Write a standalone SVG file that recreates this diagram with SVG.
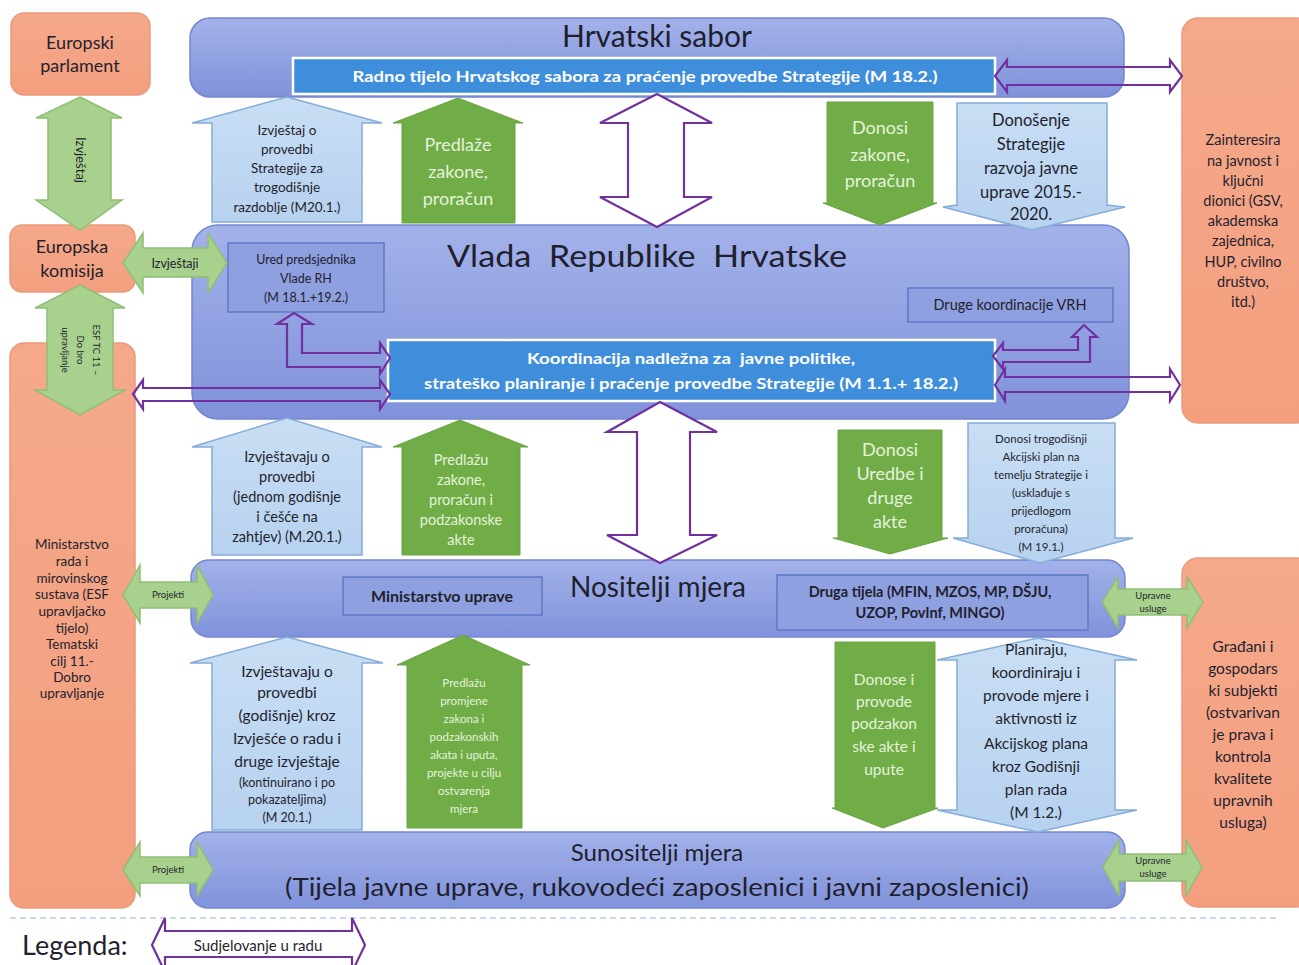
<svg xmlns="http://www.w3.org/2000/svg" width="1299" height="965" viewBox="0 0 1299 965">
<defs>
<linearGradient id="gBlue" x1="0" y1="0" x2="0" y2="1">
<stop offset="0" stop-color="#a3b2ea"/>
<stop offset="1" stop-color="#8092da"/>
</linearGradient>
<linearGradient id="gOr" x1="0" y1="0" x2="0" y2="1">
<stop offset="0" stop-color="#f5a98a"/>
<stop offset="1" stop-color="#f39f7f"/>
</linearGradient>
<linearGradient id="gLb" x1="0" y1="0" x2="0" y2="1">
<stop offset="0" stop-color="#c8def4"/>
<stop offset="1" stop-color="#b7d2ef"/>
</linearGradient>
</defs>
<style>
text{font-family:Lato,"Open Sans","Liberation Sans",sans-serif;fill:#1f1f2e;text-anchor:middle}
.or{fill:url(#gOr);stroke:#e99a7a;stroke-width:1.5}
.bb{fill:url(#gBlue);stroke:#7587d0;stroke-width:1.5}
.ib{fill:#8fa0e0;stroke:#5f78c8;stroke-width:1.5}
.bar{fill:#3f8edb;stroke:#ffffff;stroke-width:2.5}
.lb{fill:url(#gLb);stroke:#86acd8;stroke-width:1.5}
.gr{fill:#70ad47;stroke:#6aa342;stroke-width:1}
.sg{fill:#a9d18e;stroke:#8fbf75;stroke-width:1.5}
.pu{fill:none;stroke:#7030a0;stroke-width:2.2}
.puw{fill:#ffffff;stroke:#7030a0;stroke-width:2.2}
.wt{fill:#e6f2dc}
.bw{fill:#ffffff;font-weight:bold}
.t12{font-size:12.5px}
.t13{font-size:13.5px}
.t14{font-size:14.5px}
.t15{font-size:15.5px}
.t18{font-size:18px}
</style>

<!-- legend dashed separator -->
<line x1="10" y1="918" x2="1278" y2="918" stroke="#8db3d9" stroke-width="1.2" stroke-dasharray="6 4"/>

<!-- Orange side nodes -->
<g id="europski-parlament">
<rect class="or" x="11" y="13" width="139" height="82" rx="13"/>
<text class="t18" x="80" y="49">Europski</text>
<text class="t18" x="80" y="72">parlament</text>
</g>
<g id="europska-komisija">
<rect class="or" x="10" y="225" width="125" height="67" rx="12"/>
<text class="t18" x="72" y="253">Europska</text>
<text class="t18" x="72" y="277">komisija</text>
</g>
<g id="ministarstvo-rada">
<rect class="or" x="10" y="343" width="125" height="565" rx="14"/>
<g class="t13">
<text x="72" y="549">Ministarstvo</text>
<text x="72" y="566">rada i</text>
<text x="72" y="583">mirovinskog</text>
<text x="72" y="599">sustava (ESF</text>
<text x="72" y="616">upravljačko</text>
<text x="72" y="633">tijelo)</text>
<text x="72" y="649">Tematski</text>
<text x="72" y="666">cilj 11.-</text>
<text x="72" y="682">Dobro</text>
<text x="72" y="698">upravljanje</text>
</g>
</g>
<g id="zainteresirana-javnost">
<rect class="or" x="1182" y="18" width="130" height="405" rx="16"/>
<g class="t14">
<text x="1243" y="145">Zainteresira</text>
<text x="1243" y="166">na javnost i</text>
<text x="1243" y="186">ključni</text>
<text x="1243" y="206">dionici (GSV,</text>
<text x="1243" y="226">akademska</text>
<text x="1243" y="246">zajednica,</text>
<text x="1243" y="267">HUP, civilno</text>
<text x="1243" y="287">društvo,</text>
<text x="1243" y="307">itd.)</text>
</g>
</g>
<g id="gradjani">
<rect class="or" x="1182" y="558" width="130" height="349" rx="16"/>
<g class="t15">
<text x="1243" y="652">Građani i</text>
<text x="1243" y="674">gospodars</text>
<text x="1243" y="696">ki subjekti</text>
<text x="1243" y="718">(ostvarivan</text>
<text x="1243" y="740">je prava i</text>
<text x="1243" y="762">kontrola</text>
<text x="1243" y="784">kvalitete</text>
<text x="1243" y="806">upravnih</text>
<text x="1243" y="828">usluga)</text>
</g>
</g>

<!-- Main blue nodes -->
<g id="hrvatski-sabor">
<rect class="bb" x="190" y="18" width="934" height="79" rx="20"/>
<text x="657" y="47" style="font-size:30px">Hrvatski sabor</text>
<rect class="bar" x="293" y="58" width="702" height="36"/>
<text class="bw t15" x="645" y="82" textLength="585" lengthAdjust="spacingAndGlyphs">Radno tijelo Hrvatskog sabora za praćenje provedbe Strategije (M 18.2.)</text>
</g>
<g id="vlada-rh">
<rect class="bb" x="192" y="225" width="937" height="194" rx="26"/>
<text x="647" y="267" style="font-size:31px" xml:space="preserve" textLength="400" lengthAdjust="spacingAndGlyphs">Vlada  Republike  Hrvatske</text>
<rect class="ib" x="228" y="243" width="156" height="69"/>
<g class="t12">
<text x="306" y="264">Ured predsjednika</text>
<text x="306" y="283">Vlade RH</text>
<text x="306" y="302">(M 18.1.+19.2.)</text>
</g>
<rect class="ib" x="908" y="288" width="205" height="34"/>
<text class="t14" x="1010" y="310">Druge koordinacije VRH</text>
<rect class="bar" x="388" y="340" width="607" height="61"/>
<text class="bw t15" x="691" y="364" xml:space="preserve" textLength="328" lengthAdjust="spacingAndGlyphs">Koordinacija nadležna za  javne politike,</text>
<text class="bw t15" x="691" y="389" textLength="534" lengthAdjust="spacingAndGlyphs">strateško planiranje i praćenje provedbe Strategije (M 1.1.+ 18.2.)</text>
</g>
<g id="nositelji-mjera">
<rect class="bb" x="191" y="560" width="934" height="77" rx="18"/>
<text x="658" y="597" style="font-size:28px">Nositelji mjera</text>
<rect class="ib" x="343" y="577" width="199" height="38"/>
<text x="442" y="602" style="font-size:16px;font-weight:bold">Ministarstvo uprave</text>
<rect class="ib" x="777" y="575" width="311" height="55"/>
<text x="930" y="597" style="font-size:14.5px;font-weight:bold">Druga tijela (MFIN, MZOS, MP, DŠJU,</text>
<text x="930" y="618" style="font-size:14.5px;font-weight:bold">UZOP, PovInf, MINGO)</text>
</g>
<g id="sunositelji-mjera">
<rect class="bb" x="190" y="832" width="935" height="76" rx="18"/>
<text x="657" y="861" style="font-size:24px">Sunositelji mjera</text>
<text x="657" y="896" style="font-size:25px" textLength="744" lengthAdjust="spacingAndGlyphs">(Tijela javne uprave, rukovodeći zaposlenici i javni zaposlenici)</text>
</g>

<!-- Connectors -->
<g id="connectors">
<!-- Sabor <-> Vlada -->
<g id="c-izvjestaj-sabor">
<polygon class="lb" points="287,97 382,123 362,123 362,222 212,222 212,123 192,123"/>
<g class="t13">
<text x="287" y="135">Izvještaj o</text>
<text x="287" y="154">provedbi</text>
<text x="287" y="173">Strategije za</text>
<text x="287" y="192">trogodišnje</text>
<text x="287" y="212">razdoblje (M20.1.)</text>
</g>
</g>
<g id="c-predlaze">
<polygon class="gr" points="458,98 523,123 515,123 515,223 402,223 402,123 393,123"/>
<g class="t18 wt">
<text class="wt" x="458" y="151">Predlaže</text>
<text class="wt" x="458" y="178">zakone,</text>
<text class="wt" x="458" y="205">proračun</text>
</g>
</g>
<polygon id="c-sudj-sabor" class="puw" points="657,94 712,123 684,123 684,197 712,197 657,227 600,197 628,197 628,123 600,123"/>
<g id="c-donosi-zakone">
<polygon class="gr" points="827,102 933,102 933,203 937,203 880,225 823,203 827,203"/>
<text class="wt t18" x="880" y="134">Donosi</text>
<text class="wt t18" x="880" y="161">zakone,</text>
<text class="wt t18" x="880" y="187">proračun</text>
</g>
<g id="c-donosenje-strategije">
<polygon class="lb" points="957,103 1107,103 1107,205 1125,207 1032,230 943,207 957,205"/>
<g style="font-size:16.5px">
<text x="1031" y="126">Donošenje</text>
<text x="1031" y="150">Strategije</text>
<text x="1031" y="174">razvoja javne</text>
<text x="1031" y="198">uprave 2015.-</text>
<text x="1031" y="220">2020.</text>
</g>
</g>

<!-- Vlada <-> Nositelji -->
<g id="c-izvjestavaju-vlada">
<polygon class="lb" points="287,418 382,447 362,447 362,555 212,555 212,447 192,447"/>
<g class="t14">
<text x="287" y="462">Izvještavaju o</text>
<text x="287" y="482">provedbi</text>
<text x="287" y="502">(jednom godišnje</text>
<text x="287" y="522">i češće na</text>
<text x="287" y="542">zahtjev) (M.20.1.)</text>
</g>
</g>
<g id="c-predlazu-vlada">
<polygon class="gr" points="460,420 528,447 520,447 520,555 402,555 402,447 393,447"/>
<g class="t14">
<text class="wt" x="461" y="465">Predlažu</text>
<text class="wt" x="461" y="485">zakone,</text>
<text class="wt" x="461" y="505">proračun i</text>
<text class="wt" x="461" y="525">podzakonske</text>
<text class="wt" x="461" y="545">akte</text>
</g>
</g>
<polygon id="c-sudj-vlada" class="puw" points="660,402 717,432 690,432 690,535 717,535 660,563 607,535 637,535 637,432 607,432"/>
<g id="c-donosi-uredbe">
<polygon class="gr" points="838,430 942,430 942,538 948,538 890,554 833,538 838,538"/>
<text class="wt t18" x="890" y="456">Donosi</text>
<text class="wt t18" x="890" y="480">Uredbe i</text>
<text class="wt t18" x="890" y="504">druge</text>
<text class="wt t18" x="890" y="528">akte</text>
</g>
<g id="c-akcijski-plan">
<polygon class="lb" points="968,423 1115,423 1115,538 1133,538 1040,563 953,538 968,538"/>
<g style="font-size:11.5px">
<text x="1041" y="443">Donosi trogodišnji</text>
<text x="1041" y="461">Akcijski plan na</text>
<text x="1041" y="479">temelju Strategije i</text>
<text x="1041" y="497">(usklađuje s</text>
<text x="1041" y="515">prijedlogom</text>
<text x="1041" y="533">proračuna)</text>
<text x="1041" y="551">(M 19.1.)</text>
</g>
</g>

<!-- Nositelji <-> Sunositelji -->
<g id="c-izvjestavaju-nositelji">
<polygon class="lb" points="287,637 383,663 362,663 362,830 212,830 212,663 190,663"/>
<g class="t15">
<text x="287" y="677">Izvještavaju o</text>
<text x="287" y="698">provedbi</text>
<text x="287" y="721">(godišnje) kroz</text>
<text x="287" y="744">Izvješće o radu i</text>
<text x="287" y="767">druge izvještaje</text>
</g>
<g class="t12">
<text x="287" y="787">(kontinuirano i po</text>
<text x="287" y="804">pokazateljima)</text>
<text x="287" y="822">(M 20.1.)</text>
</g>
</g>
<g id="c-predlazu-promjene">
<polygon class="gr" points="463,635 530,665 522,665 522,828 407,828 407,665 397,665"/>
<g style="font-size:11.5px">
<text class="wt" x="464" y="687">Predlažu</text>
<text class="wt" x="464" y="705">promjene</text>
<text class="wt" x="464" y="723">zakona i</text>
<text class="wt" x="464" y="741">podzakonskih</text>
<text class="wt" x="464" y="759">akata i uputa,</text>
<text class="wt" x="464" y="777">projekte u cilju</text>
<text class="wt" x="464" y="795">ostvarenja</text>
<text class="wt" x="464" y="813">mjera</text>
</g>
</g>
<g id="c-donose-provode">
<polygon class="gr" points="835,642 935,642 935,808 938,808 883,828 832,808 835,808"/>
<g class="t15">
<text class="wt" x="884" y="685">Donose i</text>
<text class="wt" x="884" y="707">provode</text>
<text class="wt" x="884" y="729">podzakon</text>
<text class="wt" x="884" y="752">ske akte i</text>
<text class="wt" x="884" y="775">upute</text>
</g>
</g>
<g id="c-planiraju">
<polygon class="lb" points="1038,638 1137,660 1115,660 1115,810 1137,810 1038,832 937,810 957,810 957,660 937,660"/>
<g class="t15">
<text x="1036" y="655">Planiraju,</text>
<text x="1036" y="678">koordiniraju i</text>
<text x="1036" y="701">provode mjere i</text>
<text x="1036" y="724">aktivnosti iz</text>
<text x="1036" y="749">Akcijskog plana</text>
<text x="1036" y="772">kroz Godišnji</text>
<text x="1036" y="795">plan rada</text>
<text x="1036" y="818">(M 1.2.)</text>
</g>
</g>

<!-- EU green double arrows -->
<g id="c-izvjestaj-eu">
<polygon class="sg" points="80,97 122,118 111,118 111,200 122,200 80,230 36,200 48,200 48,118 36,118"/>
<text transform="translate(80,160) rotate(90)" x="0" y="4" style="font-size:13px">Izvještaj</text>
</g>
<g id="c-esf">
<polygon class="sg" points="80,285 125,308 113,308 113,390 125,390 80,415 35,390 47,390 47,308 35,308"/>
<g transform="translate(80,350) rotate(90)" style="font-size:9.5px">
<text x="0" y="-13">ESF  TC 11 –</text>
<text x="0" y="3">Do bro</text>
<text x="0" y="18">upravljanje</text>
</g>
</g>
<g id="c-izvjestaji">
<polygon class="sg" points="123,263 143,233 143,248 208,248 208,233 227,263 208,293 208,277 143,277 143,293"/>
<text class="t12" x="175" y="268">Izvještaji</text>
</g>
<g id="c-projekti-1">
<polygon class="sg" points="123,595 140,565 140,582 197,582 197,565 213,595 197,623 197,608 140,608 140,623"/>
<text x="168" y="598" style="font-size:9.5px">Projekti</text>
</g>
<g id="c-projekti-2">
<polygon class="sg" points="123,870 140,842 140,857 197,857 197,842 213,870 197,896 197,883 140,883 140,896"/>
<text x="168" y="873" style="font-size:9.5px">Projekti</text>
</g>
<g id="c-upravne-1">
<polygon class="sg" points="1102,602 1118,577 1118,589 1187,589 1187,577 1203,602 1187,628 1187,615 1118,615 1118,628"/>
<text x="1153" y="599" style="font-size:9.5px">Upravne</text>
<text x="1153" y="612" style="font-size:9.5px">usluge</text>
</g>
<g id="c-upravne-2">
<polygon class="sg" points="1103,867 1119,840 1119,854 1186,854 1186,840 1202,867 1186,896 1186,881 1119,881 1119,896"/>
<text x="1153" y="864" style="font-size:9.5px">Upravne</text>
<text x="1153" y="877" style="font-size:9.5px">usluge</text>
</g>

<!-- Purple participation arrows -->
<polygon id="c-sabor-javnost" class="pu" points="995,76 1007,60 1007,67 1170,67 1170,60 1182,76 1170,92 1170,85 1007,85 1007,92"/>
<polygon id="c-ured-koord" class="pu" points="294,313 312,324 302,324 302,353 380,353 380,343 390,358 380,374 380,367 287,367 287,324 277,324"/>
<polygon id="c-mrms-koord" class="pu" points="133,394 143,380 143,388 380,388 380,380 390,394 380,409 380,401 143,401 143,409"/>
<polygon id="c-koord-druge" class="pu" points="1084,325 1097,337 1090,337 1090,362 1003,362 1003,369 993,356 1003,343 1003,350 1078,350 1078,337 1072,337"/>
<polygon id="c-koord-javnost" class="pu" points="995,385 1005,369 1005,377 1170,377 1170,369 1180,385 1170,401 1170,392 1005,392 1005,401"/>
</g>

<!-- Legend -->
<g id="legend">
<text x="22" y="955" style="font-size:27px;text-anchor:start">Legenda:</text>
<polygon class="puw" points="152,945 165,918 165,931 352,931 352,918 365,945 352,972 352,957 165,957 165,972"/>
<text x="258" y="951" style="font-size:15px">Sudjelovanje u radu</text>
</g>
</svg>
